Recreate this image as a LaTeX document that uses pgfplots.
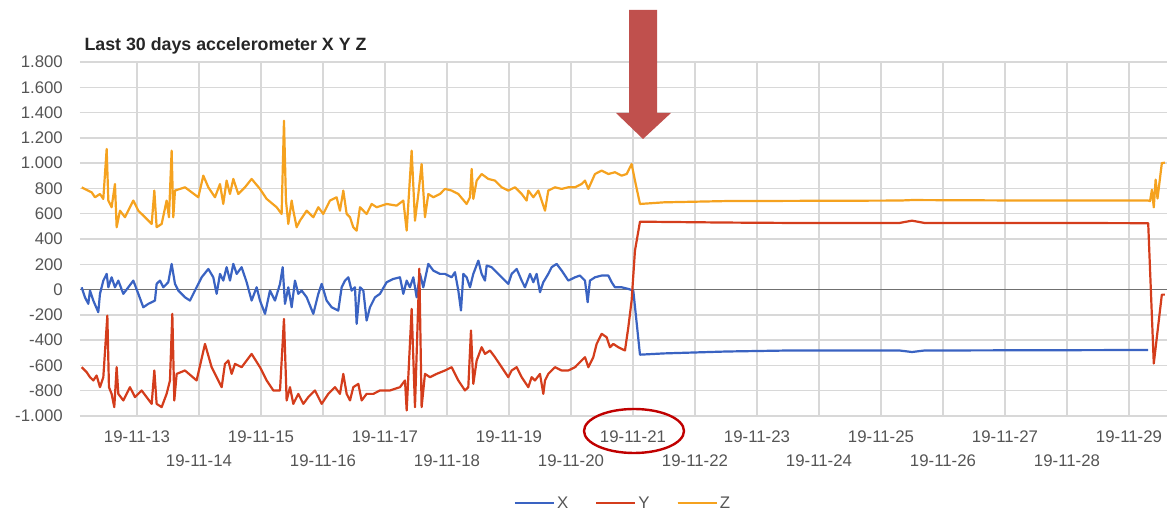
\documentclass[border=0pt]{standalone}
\usepackage{pgfplots}
\pgfplotsset{compat=1.18}
\usepackage{fontspec}
\setmainfont{Liberation Sans}
\definecolor{cx}{HTML}{3A63C2}
\definecolor{cy}{HTML}{D43D1C}
\definecolor{cz}{HTML}{F5A21F}
\definecolor{gridc}{HTML}{D8D8D8}
\definecolor{basec}{HTML}{707070}
\definecolor{labc}{HTML}{555555}
\definecolor{arrowc}{HTML}{C0504D}
\definecolor{ellc}{HTML}{C00000}
\begin{document}
\begin{tikzpicture}[x=1pt,y=1pt]
\path[use as bounding box] (0,0) rectangle (1175,513);
\begin{axis}[
  at={(80pt,97pt)}, anchor=south west,
  width=1087pt, height=354pt, scale only axis,
  xmin=12.081, xmax=29.613, ymin=-1000, ymax=1800,
  axis line style={draw=none}, major tick length=0pt,
  grid=major, major grid style={gridc, line width=1.3pt},
  xtick={13,15,...,29},
  xticklabels={19-11-13,19-11-15,19-11-17,19-11-19,19-11-21,19-11-23,19-11-25,19-11-27,19-11-29},
  extra x ticks={14,16,...,28},
  extra x tick labels={19-11-14,19-11-16,19-11-18,19-11-20,19-11-22,19-11-24,19-11-26,19-11-28},
  extra x tick style={grid=major, xticklabel style={yshift=-24pt}},
  xticklabel style={anchor=base, inner sep=0pt, yshift=-27pt, text=labc, font=\fontsize{16.8}{18}\selectfont},
  ytick={-1000,-800,...,1800},
  yticklabels={-1.000,-800,-600,-400,-200,0,200,400,600,800,1.000,1.200,1.400,1.600,1.800},
  yticklabel style={anchor=east, inner sep=0pt, xshift=-17pt, text=labc, font=\fontsize{16.8}{18}\selectfont},
  clip=false,
  legend style={at={(axis description cs:0.4995,-0.2458)}, anchor=center, draw=none, fill=none,
    legend columns=3, text=labc, font=\fontsize{16.8}{18}\selectfont,
    /tikz/every even column/.append style={column sep=25pt}},
  legend image code/.code={\path (0pt,0pt) -- (39pt,0pt); \draw[#1] (0pt,0pt) -- (35pt,0pt);},
  every axis plot/.append style={line width=2.2pt, line join=round},
]
\draw[basec, line width=1.6pt] (axis cs:12.081,0) -- (axis cs:29.613,0);
% X
\addplot[cx] coordinates {
(12.108,18) (12.161,-61) (12.215,-113) (12.242,-8) (12.296,-87) (12.376,-179) (12.403,-34) (12.457,71) (12.511,124) (12.538,18) (12.591,97) (12.645,18) (12.699,71) (12.780,-34) (12.860,18) (12.941,71) (13.022,-34) (13.102,-140) (13.183,-113) (13.290,-87) (13.317,45) (13.371,71) (13.425,18) (13.505,58) (13.559,203) (13.613,45) (13.667,-8) (13.774,-61) (13.855,-87) (13.935,-8) (14.043,97) (14.151,163) (14.231,97) (14.285,-34) (14.339,124) (14.392,71) (14.446,177) (14.500,71) (14.554,203) (14.608,124) (14.688,177) (14.769,58) (14.849,-87) (14.930,18)
(14.984,-87) (15.065,-192) (15.145,-8) (15.226,-87) (15.307,45) (15.350,177) (15.387,-113) (15.441,18) (15.495,-140) (15.548,71) (15.602,-34) (15.656,-8) (15.737,-61) (15.844,-192) (15.925,-34) (15.979,45) (16.059,-87) (16.140,-140) (16.247,-166) (16.301,18) (16.355,71) (16.409,97) (16.462,-8) (16.516,18) (16.543,-271) (16.597,18) (16.651,-8) (16.704,-245) (16.758,-140) (16.839,-61) (16.919,-34) (17.027,58) (17.134,84) (17.242,97) (17.296,-34) (17.350,71) (17.403,18) (17.457,97) (17.511,-61) (17.565,124) (17.618,18) (17.699,203) (17.780,150) (17.887,124)
(17.968,124) (18.075,97) (18.129,137) (18.183,-8) (18.226,-166) (18.264,124) (18.317,97) (18.371,18) (18.425,124) (18.506,229) (18.559,124) (18.613,71) (18.640,190) (18.720,177) (18.828,124) (18.935,71) (18.989,45) (19.043,124) (19.124,163) (19.205,71) (19.258,18) (19.339,124) (19.393,58) (19.446,124) (19.500,-21) (19.554,58) (19.634,124) (19.688,177) (19.769,203) (19.850,150) (19.957,71) (20.065,97) (20.145,111) (20.226,71) (20.269,-100) (20.306,71) (20.387,97) (20.495,111) (20.602,111) (20.656,58) (20.710,18) (20.817,18) (20.925,5) (21.005,-8)
(21.113,-515) (21.5,-505) (22.5,-490) (23.5,-482) (25.3,-482) (25.5,-494) (25.7,-482) (27.5,-480) (29.31,-478)
};
\addlegendentry{X}
% Y
\addplot[cy] coordinates {
(12.108,-614) (12.188,-653) (12.242,-693) (12.296,-719) (12.349,-680) (12.403,-772) (12.457,-693) (12.522,-206) (12.548,-772) (12.591,-825) (12.634,-930) (12.672,-614) (12.699,-825) (12.780,-877) (12.887,-772) (12.968,-851) (13.075,-798) (13.156,-851) (13.237,-904) (13.280,-640) (13.317,-904) (13.398,-930) (13.478,-825) (13.532,-719) (13.570,-192) (13.602,-877) (13.640,-667) (13.774,-640) (13.962,-719) (14.097,-430) (14.204,-614) (14.285,-693) (14.366,-772) (14.419,-588) (14.473,-561) (14.527,-667) (14.581,-588) (14.688,-614) (14.849,-509)
(14.984,-614) (15.092,-719) (15.199,-798) (15.307,-798) (15.371,-232) (15.414,-877) (15.468,-772) (15.522,-904) (15.602,-825) (15.683,-904) (15.763,-851) (15.871,-798) (15.979,-904) (16.086,-825) (16.194,-772) (16.274,-825) (16.328,-667) (16.382,-825) (16.436,-877) (16.489,-772) (16.570,-746) (16.624,-877) (16.704,-825) (16.812,-825) (16.919,-798) (17.081,-798) (17.242,-772) (17.323,-719) (17.350,-956) (17.430,-153) (17.484,-930) (17.554,165) (17.591,-930) (17.645,-667) (17.726,-693) (17.833,-667)
(17.968,-640) (18.075,-614) (18.183,-719) (18.290,-798) (18.344,-772) (18.387,-324) (18.425,-746) (18.479,-561) (18.559,-456) (18.613,-509) (18.694,-482) (18.774,-535) (18.882,-614) (18.989,-693) (19.043,-640) (19.124,-614) (19.205,-693) (19.312,-772) (19.366,-693) (19.419,-719) (19.500,-667) (19.554,-825) (19.581,-719) (19.634,-667) (19.742,-614) (19.850,-640) (19.957,-640) (20.065,-614) (20.172,-561) (20.226,-535) (20.280,-614) (20.360,-535) (20.414,-430) (20.495,-350) (20.575,-377) (20.629,-456) (20.683,-430) (20.763,-456) (20.871,-482) (20.925,-298) (20.978,-87) (21.032,308) (21.113,537)
(21.5,535) (22.5,530) (23.5,527) (25.3,527) (25.5,545) (25.7,527) (27.5,527) (29.31,525) (29.40,-585) (29.53,-40) (29.58,-40)
};
\addlegendentry{Y}
% Z
\addplot[cz] coordinates {
(12.108,808) (12.269,769) (12.323,730) (12.403,756) (12.457,717) (12.511,1112) (12.538,704) (12.591,651) (12.645,835) (12.672,493) (12.726,624) (12.806,572) (12.941,704) (13.022,624) (13.129,572) (13.237,519) (13.280,783) (13.317,493) (13.398,519) (13.478,704) (13.516,572) (13.559,1099) (13.586,572) (13.613,783) (13.774,809) (13.989,730) (14.070,901) (14.151,809) (14.258,730) (14.339,835) (14.392,677) (14.446,862) (14.500,756) (14.554,875) (14.634,756) (14.742,809) (14.849,875)
(14.984,796) (15.092,717) (15.253,651) (15.333,598) (15.371,1336) (15.403,704) (15.441,519) (15.495,704) (15.522,624) (15.575,493) (15.629,545) (15.737,624) (15.844,572) (15.925,651) (16.005,598) (16.113,704) (16.220,730) (16.274,624) (16.328,783) (16.382,598) (16.436,572) (16.489,493) (16.543,466) (16.597,651) (16.704,598) (16.785,677) (16.866,651) (17.027,677) (17.188,664) (17.296,704) (17.350,466) (17.430,1099) (17.484,545) (17.538,756) (17.591,993) (17.645,572) (17.699,756) (17.780,730) (17.887,756)
(17.968,796) (18.075,783) (18.183,756) (18.317,677) (18.371,730) (18.398,954) (18.425,717) (18.479,862) (18.559,914) (18.667,875) (18.774,862) (18.882,809) (18.989,783) (19.097,809) (19.205,756) (19.285,704) (19.312,783) (19.393,730) (19.473,783) (19.527,704) (19.581,624) (19.634,783) (19.742,809) (19.850,796) (19.957,809) (20.065,809) (20.172,835) (20.226,862) (20.280,796) (20.387,914) (20.495,941) (20.602,914) (20.710,928) (20.817,901) (20.898,914) (20.978,993) (21.032,862) (21.113,677)
(21.5,690) (22.5,700) (25.3,704) (25.5,708) (27.5,704) (29.31,704) (29.34,700) (29.37,790) (29.40,650) (29.43,870) (29.46,720) (29.53,1000) (29.58,1004)
};
\addlegendentry{Z}
\end{axis}
\node[anchor=base west, font=\fontsize{17.8}{20}\selectfont\bfseries, text=black!85] at (81,462) {Last 30 days accelerometer X Y Z};
\fill[arrowc] (629,503) -- (657,503) -- (657,400) -- (671,400) -- (643,374) -- (616,400) -- (629,400) -- cycle;
\draw[ellc, line width=2.4pt] (634,82) ellipse [x radius=50, y radius=22];
\end{tikzpicture}
\end{document}
